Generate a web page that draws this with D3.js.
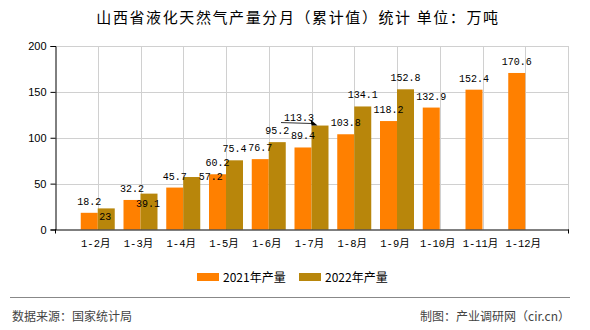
<!DOCTYPE html>
<html><head><meta charset="utf-8">
<script src="https://cdn.jsdelivr.net/npm/d3@7"></script>
<style>
html,body{margin:0;padding:0;background:#fff;}
svg{display:block;}
</style></head>
<body>
<svg id="chart" width="590" height="330"></svg>
<script>
const title = "山西省液化天然气产量分月（累计值）统计 单位：万吨";
const categories = ["1-2月","1-3月","1-4月","1-5月","1-6月","1-7月","1-8月","1-9月","1-10月","1-11月","1-12月"];
const series2021 = [18.2, 32.2, 45.7, 60.2, 76.7, 89.4, 103.8, 118.2, 132.9, 152.4, 170.6];
const series2022 = [23, 39.1, 57.2, 75.4, 95.2, 113.3, 134.1, 152.8, null, null, null];
const seriesNames = ["2021年产量", "2022年产量"];
const yTicks = [0, 50, 100, 150, 200];
const sourceText = "数据来源：国家统计局";
const creditText = "制图：产业调研网（cir.cn）";

const colors = ["#FF8000", "#B8860B"];
const svg = d3.select("#chart");
const L = 55, R = 568, T = 46, B = 229.5;
const cjk = "'Noto Sans CJK SC', 'Noto Sans', sans-serif";
const mono = "'Liberation Mono', 'DejaVu Sans Mono', 'Noto Sans CJK SC', monospace";

const x = d3.scalePoint().domain(["__start", ...categories, "__end"]).range([L, R]);
const y = d3.scaleLinear().domain([0, 200]).range([B, T]);
const barW = 17;

// title
svg.append("text").attr("x", 298).attr("y", 23).attr("text-anchor", "middle")
  .attr("font-family", cjk).attr("font-size", 15).attr("letter-spacing", 1.6).attr("fill", "#000").text(title);

// grid
const g = svg.append("g");
g.selectAll(".hg").data(yTicks.filter(d => d > 0)).join("line")
  .attr("x1", L).attr("x2", R).attr("y1", d => Math.round(y(d)) + 0.5).attr("y2", d => Math.round(y(d)) + 0.5)
  .attr("stroke", "#d0d0d0").attr("stroke-width", 1);
g.selectAll(".vg").data([...categories, "__end"]).join("line")
  .attr("x1", d => Math.round(x(d)) + 0.5).attr("x2", d => Math.round(x(d)) + 0.5)
  .attr("y1", T).attr("y2", B).attr("stroke", "#d0d0d0").attr("stroke-width", 1);

// bars
const bars = svg.append("g");
bars.selectAll(".b1").data(categories.map((c, i) => ({c, v: series2021[i]}))).join("rect")
  .attr("x", d => x(d.c) - barW).attr("width", barW)
  .attr("y", d => y(d.v)).attr("height", d => B - y(d.v)).attr("fill", colors[0]);
bars.selectAll(".b2").data(categories.map((c, i) => ({c, v: series2022[i]})).filter(d => d.v != null)).join("rect")
  .attr("x", d => x(d.c)).attr("width", barW)
  .attr("y", d => y(d.v)).attr("height", d => B - y(d.v)).attr("fill", colors[1]);

// axes
const yAxis = d3.axisLeft(y).tickValues(yTicks).tickSize(5).tickPadding(4).tickFormat(d3.format("d"));
const ya = svg.append("g").attr("transform", `translate(${L + 0.5},0)`).call(yAxis);
ya.select(".domain").attr("stroke", "#000");
ya.selectAll(".tick line").attr("stroke", "#000");
ya.selectAll("text").attr("font-family", "'Liberation Sans', Arial, sans-serif").attr("font-size", 11).attr("fill", "#000");

const xa = svg.append("g").attr("transform", `translate(0,${B})`);
xa.append("line").attr("x1", L).attr("x2", R + 1).attr("y1", 0.5).attr("y2", 0.5).attr("stroke", "#000");
xa.selectAll(".xt").data(["__start", "__end"]).join("line")
  .attr("x1", d => Math.round(x(d)) + 0.5).attr("x2", d => Math.round(x(d)) + 0.5)
  .attr("y1", 0).attr("y2", 4).attr("stroke", "#000");
xa.selectAll(".xl").data(categories).join("text")
  .attr("x", d => x(d) - 2).attr("y", 17).attr("text-anchor", "middle")
  .attr("font-family", mono).attr("font-size", 10.5).attr("fill", "#000").text(d => d);

// data labels (with manual de-overlap nudges like the reference)
const nudge2022 = {0: {dx: -1, dy: 20}, 1: {dx: -1, dy: 21}, 2: {dx: 19, dy: 11}, 5: {dx: -21, dy: 3, arrow: true}};
const labels = svg.append("g").attr("font-family", mono).attr("font-size", 10).attr("fill", "#000").attr("text-anchor", "middle");
categories.forEach((c, i) => {
  const v1 = series2021[i];
  labels.append("text").attr("x", x(c) - barW / 2).attr("y", y(v1) - 8).text(v1);
  const v2 = series2022[i];
  if (v2 != null) {
    const n = nudge2022[i] || {dx: 0, dy: 0};
    const lx = x(c) + barW / 2 + n.dx, ly = y(v2) - 8 + n.dy;
    labels.append("text").attr("x", lx).attr("y", ly).text(v2);
    if (n.arrow) {
      const ex = x(c) + 6, ey = y(v2);
      svg.append("line").attr("x1", lx - 18).attr("y1", ly + 2).attr("x2", ex - 4).attr("y2", ey - 2)
        .attr("stroke", "#333").attr("stroke-width", 1);
      svg.append("path").attr("d", `M${ex},${ey} L${ex - 7},${ey - 6} L${ex - 6},${ey + 0}Z`).attr("fill", "#000");
    }
  }
});

// legend
const leg = svg.append("g");
const legX = [197, 299];
seriesNames.forEach((s, i) => {
  leg.append("rect").attr("x", legX[i]).attr("y", 273).attr("width", 22).attr("height", 8).attr("fill", colors[i]);
  leg.append("text").attr("x", legX[i] + 26).attr("y", 282).attr("font-family", cjk).attr("font-size", 12).attr("fill", "#000").text(s);
});

// footer
svg.append("line").attr("x1", 10).attr("x2", 570).attr("y1", 297.5).attr("y2", 297.5).attr("stroke", "#888").attr("stroke-width", 1);
svg.append("text").attr("x", 12).attr("y", 321).attr("font-family", cjk).attr("font-size", 12).attr("fill", "#444").text(sourceText);
svg.append("text").attr("x", 570).attr("y", 321).attr("text-anchor", "end").attr("font-family", cjk).attr("font-size", 12).attr("fill", "#444").text(creditText);
</script>
</body></html>
